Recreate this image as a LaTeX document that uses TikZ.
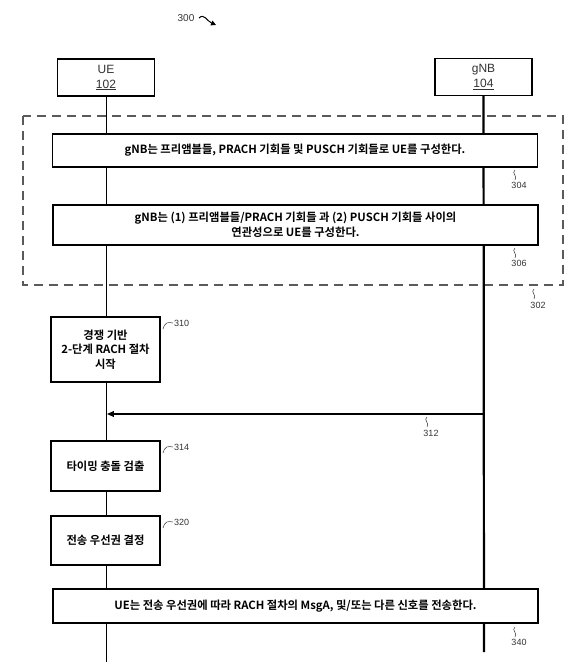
\documentclass[tikz,border=0pt]{standalone}
\usepackage{fontspec}
\setmainfont{Liberation Sans}
\newfontfamily\krfont{Noto Sans CJK KR}[BoldFont={Noto Sans CJK KR Bold}]
\usepackage{tikz}
\usetikzlibrary{arrows.meta}
\definecolor{dashc}{HTML}{5A5A5A}
\definecolor{txtc}{HTML}{333333}
\tikzset{
  head/.style={draw,line width=1.4pt,fill=white,minimum width=97pt,minimum height=37pt,inner sep=0pt,align=center,text=txtc,font=\fontsize{12}{14}\selectfont},
  stepbox/.style={draw,line width=1.4pt,fill=white,minimum width=109pt,inner sep=0pt,align=center,font=\krfont\bfseries\fontsize{11.3}{14.5}\selectfont},
  widebox/.style={stepbox,minimum width=485pt},
  lbl/.style={font=\fontsize{9}{10}\selectfont,inner sep=0pt,text=txtc},
  squig/.style={line width=0.5pt,txtc},
  ar/.style={-{Triangle[length=2.4mm,width=2mm]},line width=1.2pt}
}

\begin{document}
\begin{tikzpicture}[x=1pt,y=-1pt]
\useasboundingbox (0,0) rectangle (577,662);
% group 302
\draw[dashc,line width=1.4pt,dash pattern=on 9pt off 6pt] (23,116) rectangle (563,285);
% heads
\node[head] (ue) at (106,77.5) {UE\\[1pt]\underline{102}};
\node[head] (gnb) at (483.5,77) {gNB\\[1pt]\underline{104}};
\coordinate (uebot) at (106,662);
\coordinate (gnbbot) at (484,652);
\draw[line width=0.9pt] (ue) -- (uebot);
\draw[line width=2.2pt] (gnb) -- (gnbbot);
% configuration
\node[widebox,minimum height=33pt] (cfg1) at (295,150.5) {gNB는 프리앰블들, PRACH 기회들 및 PUSCH 기회들로 UE를 구성한다.};
\node[widebox,minimum height=40pt] (cfg2) at (295.5,225) {gNB는 (1) 프리앰블들/PRACH 기회들 과 (2) PUSCH 기회들 사이의\\연관성으로 UE를 구성한다.};
% UE steps
\node[stepbox,minimum height=65pt] (start) at (105.5,349.5) {경쟁 기반\\2-단계 RACH 절차\\시작};
\coordinate (m312s) at (484,414);
\coordinate (m312e) at (107,414);
\draw[ar] (m312s) -- (m312e);
\node[stepbox,minimum height=50pt] (tcol) at (105.5,466) {타이밍 충돌 검출};
\node[stepbox,minimum height=49pt] (prio) at (105.5,540.5) {전송 우선권 결정};
\node[widebox,minimum height=34pt] (send) at (295.5,606) {UE는 전송 우선권에 따라 RACH 절차의 MsgA, 및/또는 다른 신호를 전송한다.};
% reference numerals
\node[lbl,font=\fontsize{10}{11}\selectfont] (n300) at (186,18) {300};
\draw[-{Triangle[length=5pt,width=5pt]},line width=1pt] (199,18) .. controls (204,13) and (207,21) .. (216,25);
\draw[squig] (515,170) .. controls (511,173) and (518,176) .. (515,180);
\node[lbl] (n304) at (519,185) {304};
\draw[squig] (515,248) .. controls (511,251) and (518,254) .. (515,258);
\node[lbl] (n306) at (519,263) {306};
\draw[squig] (534,289) .. controls (530,292) and (537,295) .. (534,299);
\node[lbl] (n302) at (538,305) {302};
\foreach \yy/\nn in {323/310,447/314,522/320}{
  \draw[squig] (163,\yy+6) .. controls (165,\yy-1) and (168,\yy-1) .. (173,\yy);
  \node[lbl,anchor=west] at (174,\yy) {\nn};
}
\draw[squig] (427,417) .. controls (423,420) and (430,423) .. (427,427);
\node[lbl] (n312) at (431,433) {312};
\draw[squig] (515,627) .. controls (511,630) and (518,633) .. (515,637);
\node[lbl] (n340) at (519,642) {340};
\end{tikzpicture}
\end{document}
